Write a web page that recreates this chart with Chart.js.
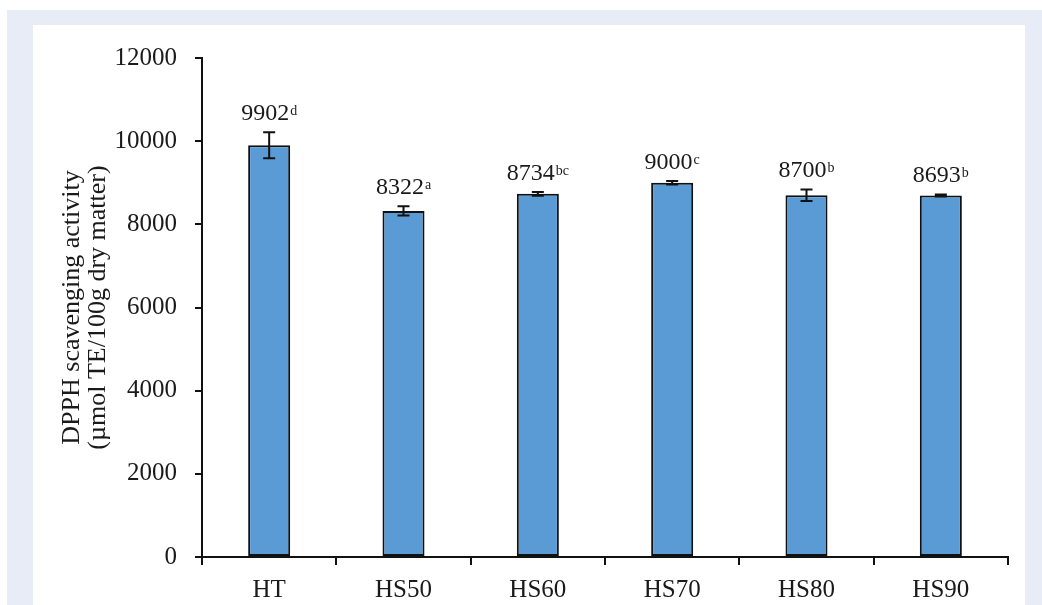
<!DOCTYPE html>
<html>
<head>
<meta charset="utf-8">
<script src="https://cdn.jsdelivr.net/npm/chart.js@4.4.1/dist/chart.umd.min.js"></script>
<style>
  html, body { margin: 0; padding: 0; background: #ffffff; }
  #frame { position: absolute; left: 7px; top: 10px; width: 1035px; height: 595px; background: #e7ecf6; }
  #panel { position: absolute; left: 33px; top: 25px; width: 992px; height: 580px; background: #ffffff; }
  #chart { display: block; }
</style>
</head>
<body>
<div id="frame"></div>
<div id="panel"><canvas id="chart" width="992" height="580"></canvas></div>
<script>
// Samples and their DPPH scavenging activity (µmol TE/100g dry matter)
const categories = ['HT', 'HS50', 'HS60', 'HS70', 'HS80', 'HS90'];
const values = [9902, 8322, 8734, 9000, 8700, 8693];
const errors = [310, 110, 45, 45, 140, 25];
const letters = ['d', 'a', 'bc', 'c', 'b', 'b'];
const yTicks = [0, 2000, 4000, 6000, 8000, 10000, 12000];

const serif = '"Liberation Serif", "Times New Roman", serif';
const ink = '#1a1a1a';

// Error bars plus value labels with significance letters
const annotate = {
  id: 'annotate',
  afterDatasetsDraw(chart) {
    const ctx = chart.ctx;
    const meta = chart.getDatasetMeta(0);
    const y = chart.scales.y;
    ctx.save();
    meta.data.forEach((bar, i) => {
      const x = bar.x;
      const top = y.getPixelForValue(values[i] + errors[i]);
      const bot = y.getPixelForValue(values[i] - errors[i]);
      ctx.strokeStyle = '#111';
      ctx.lineWidth = 2;
      ctx.beginPath();
      ctx.moveTo(x, top); ctx.lineTo(x, bot);
      ctx.moveTo(x - 6, top); ctx.lineTo(x + 6, top);
      ctx.moveTo(x - 6, bot); ctx.lineTo(x + 6, bot);
      ctx.stroke();

      const num = String(values[i]);
      const sup = letters[i];
      ctx.font = '24px ' + serif;
      const wNum = ctx.measureText(num).width;
      ctx.font = '14px ' + serif;
      const wSup = ctx.measureText(sup).width;
      const start = x - (wNum + wSup + 1) / 2;
      const base = top - 12;
      ctx.fillStyle = ink;
      ctx.textBaseline = 'alphabetic';
      ctx.textAlign = 'left';
      ctx.font = '24px ' + serif;
      ctx.fillText(num, start, base);
      ctx.font = '14px ' + serif;
      ctx.fillText(sup, start + wNum + 1, base - 5);
    });
    ctx.restore();
  }
};

new Chart(document.getElementById('chart'), {
  type: 'bar',
  data: {
    labels: categories,
    datasets: [{
      data: values,
      backgroundColor: '#5b9bd5',
      borderColor: '#111111',
      borderWidth: 2,
      borderSkipped: false,
      barPercentage: 0.313,
      categoryPercentage: 1.0
    }]
  },
  options: {
    responsive: false,
    animation: false,
    events: [],
    layout: { padding: { left: 0, right: 17, top: 32, bottom: 0 } },
    plugins: { legend: { display: false }, tooltip: { enabled: false } },
    scales: {
      x: {
        grid: { display: true, drawOnChartArea: false, drawTicks: true, tickLength: 8, tickColor: '#111', lineWidth: 2, offset: true },
        border: { display: true, color: '#111', width: 2 },
        ticks: { color: ink, font: { family: serif, size: 25 }, padding: 10 },
        afterFit(scale) { scale.height = 48; }
      },
      y: {
        min: 0,
        max: 12000,
        afterBuildTicks(scale) { scale.ticks = yTicks.map(v => ({ value: v })); },
        grid: { display: true, drawOnChartArea: false, drawTicks: true, tickLength: 7, tickColor: '#111', lineWidth: 2 },
        border: { display: true, color: '#111', width: 2 },
        ticks: { color: ink, font: { family: serif, size: 25 }, padding: 18, callback: (v) => String(v) },
        title: {
          display: true,
          text: ['DPPH scavenging activity', '(µmol TE/100g dry matter)'],
          color: ink,
          font: { family: serif, size: 26, lineHeight: 1.0 },
          padding: { top: 26, bottom: 0 }
        },
        afterFit(scale) { scale.width = 169; }
      }
    }
  },
  plugins: [annotate]
});
</script>
</body>
</html>
